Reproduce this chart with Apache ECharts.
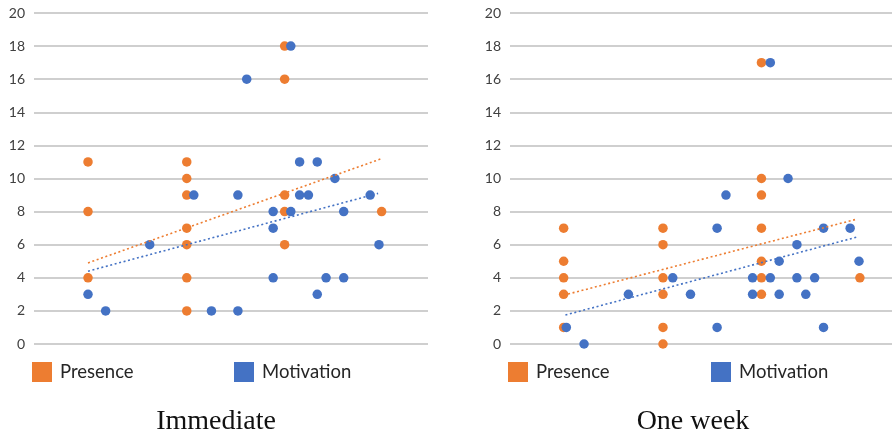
<!DOCTYPE html>
<html>
<head>
<meta charset="utf-8">
<script src="https://cdn.jsdelivr.net/npm/echarts@6/dist/echarts.min.js"></script>
<style>
  html, body { margin: 0; padding: 0; background: #fff; }
  #chart { width: 892px; height: 434px; }
</style>
</head>
<body>
<div id="chart"></div>
<script>
// ---- data ----
const yTicks = [0, 2, 4, 6, 8, 10, 12, 14, 16, 18, 20];
const seriesNames = ['Presence', 'Motivation'];
const panelTitles = ['Immediate', 'One week'];

const immPresence = [[6,11],[6,8],[6,4],[17.2,11],[17.2,10],[17.2,9],[17.2,7],[17.2,6],[17.2,4],[17.2,2],
  [28.3,18],[28.3,16],[28.3,9],[28.3,8],[28.3,6],[39.3,8]];
const immMotivation = [[6,3],[8,2],[13,6],[18,9],[20,2],[23,9],[23,2],[24,16],[27,8],[27,7],[27,4],
  [29,18],[29,8],[30,11],[30,9],[31,9],[32,11],[32,3],[33,4],[34,10],[35,8],[35,4],[38,9],[39,6]];
const immPresenceTrend = [[6,4.9],[39.3,11.2]];
const immMotivationTrend = [[6,4.4],[38.9,9.1]];

const weekPresence = [[5.7,7],[5.7,5],[5.7,4],[5.7,3],[5.7,1],[16.9,7],[16.9,6],[16.9,4],[16.9,3],[16.9,1],[16.9,0],
  [28,17],[28,10],[28,9],[28,7],[28,5],[28,4],[28,3],[39.1,4]];
const weekMotivation = [[6,1],[8,0],[13,3],[18,4],[20,3],[23,7],[23,1],[24,9],[27,4],[27,3],[29,17],[29,4],
  [30,5],[30,3],[31,10],[32,6],[32,4],[33,3],[34,4],[35,7],[35,1],[38,7],[39,5]];
const weekPresenceTrend = [[5.7,2.95],[38.8,7.55]];
const weekMotivationTrend = [[5.9,1.75],[38.9,6.48]];

// ---- styling ----
const ORANGE = '#ED7D31';
const BLUE = '#4472C4';
const sans = 'Lato, "Open Sans", sans-serif';
const serif = '"Liberation Serif", "DejaVu Serif", serif';

const chart = echarts.init(document.getElementById('chart'), null, { renderer: 'canvas' });

function yAxis(gridIndex) {
  return {
    type: 'value', gridIndex, min: yTicks[0], max: yTicks[yTicks.length - 1], interval: 2,
    axisLine: { show: false }, axisTick: { show: false },
    axisLabel: { color: '#404040', fontFamily: sans, fontSize: 14, margin: 9 },
    splitLine: { lineStyle: { color: '#BFBFBF', width: 1.5 } }
  };
}
function xAxis(gridIndex, min, max) {
  return { type: 'value', gridIndex, min, max, show: false, splitLine: { show: false } };
}
function scatter(name, data, color, idx) {
  return { name, type: 'scatter', xAxisIndex: idx, yAxisIndex: idx, data,
    symbol: 'circle', symbolSize: 9.5, itemStyle: { color, opacity: 1 }, z: 2, emphasis: { disabled: true } };
}
function trend(name, data, color, idx) {
  return { name, type: 'line', xAxisIndex: idx, yAxisIndex: idx, data, symbol: 'none',
    lineStyle: { color, width: 1.6, type: [2, 2.6] }, z: 3, silent: true };
}
function legend(name, left) {
  return { data: [name], left, top: 362, padding: 0, icon: 'rect', itemWidth: 20, itemHeight: 20,
    textStyle: { color: '#262626', fontFamily: sans, fontSize: 18.5, padding: [0, 0, 0, 3] }, selectedMode: false };
}

const option = {
  animation: false,
  grid: [
    { left: 34, width: 394, top: 13, height: 331 },
    { left: 510, right: 0, top: 13, height: 331 }
  ],
  xAxis: [xAxis(0, -0.125, 44.56), xAxis(1, -0.35, 42.72)],
  yAxis: [yAxis(0), yAxis(1)],
  legend: [legend(seriesNames[0], 32), legend(seriesNames[1], 234), legend(seriesNames[0], 508), legend(seriesNames[1], 711)],
  series: [
    scatter(seriesNames[0], immPresence, ORANGE, 0),
    scatter(seriesNames[1], immMotivation, BLUE, 0),
    trend('Presence trend', immPresenceTrend, ORANGE, 0),
    trend('Motivation trend', immMotivationTrend, BLUE, 0),
    scatter(seriesNames[0], weekPresence, ORANGE, 1),
    scatter(seriesNames[1], weekMotivation, BLUE, 1),
    trend('Presence trend', weekPresenceTrend, ORANGE, 1),
    trend('Motivation trend', weekMotivationTrend, BLUE, 1)
  ],
  graphic: [
    { type: 'text', x: 216, y: 421.5, style: { text: panelTitles[0], font: '28px ' + serif, fill: '#111', align: 'center', verticalAlign: 'middle' } },
    { type: 'text', x: 693, y: 421.5, style: { text: panelTitles[1], font: '28px ' + serif, fill: '#111', align: 'center', verticalAlign: 'middle' } }
  ]
};
chart.setOption(option);
</script>
</body>
</html>
